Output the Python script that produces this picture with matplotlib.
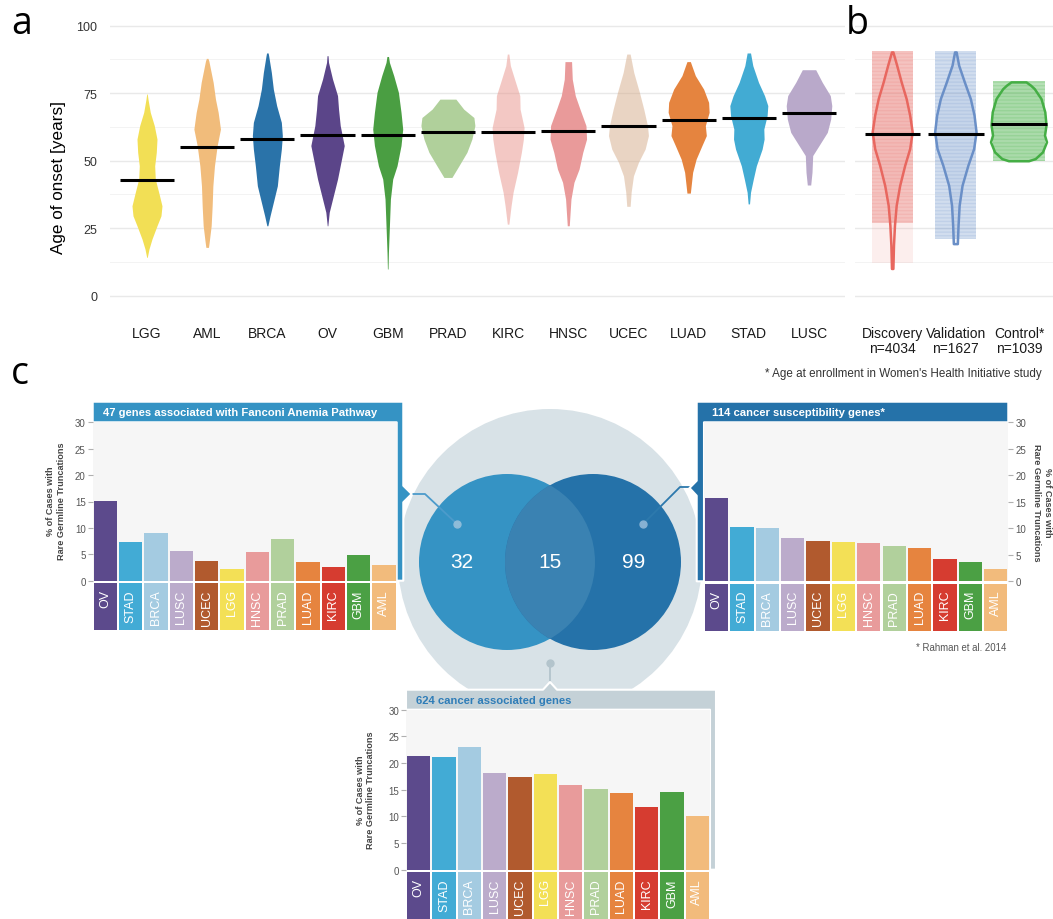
import matplotlib.pyplot as plt
import numpy as np
from matplotlib.patches import Circle, Polygon

plt.rcParams['font.family'] = ['Liberation Sans', 'DejaVu Sans']
plt.rcParams['hatch.linewidth'] = 0.6

W, H = 1053, 920

# ---------------- panel a: age of onset per cancer type ----------------
onset_types = ["LGG", "AML", "BRCA", "OV", "GBM", "PRAD",
               "KIRC", "HNSC", "UCEC", "LUAD", "STAD", "LUSC"]
onset_colors = ["#f2df55", "#f1bc7b", "#2a73a9", "#5b4589", "#4a9e42", "#b0d09b",
                "#e8938a", "#e99a9a", "#d5ab89", "#e5843f", "#42abd3", "#b9a9ca"]
onset_alpha = [1, 1, 1, 1, 1, 1, 0.5, 1, 0.5, 1, 1, 1]
onset_median = [43.0, 55.0, 58.0, 59.4, 59.6, 60.6, 60.6, 60.9, 63.0, 65.2, 65.8, 67.6]

# violin outlines as (age, half width in px)
lgg_shape = [(74.7, 0.3), (72.8, 1), (67.9, 3.3), (63, 7.3), (58, 10), (53.1, 9.3), (48.1, 7.7),
             (43.2, 8.3), (38.3, 11.7), (33.3, 15), (29.6, 14), (25.9, 10), (21, 5), (17.3, 2), (14.2, 0.3)]
aml_shape = [(87.9, 0.8), (86.9, 1.7), (79, 6), (72.8, 8.3), (67.9, 11), (61.7, 13.3), (55.6, 10),
             (48.1, 7.3), (40.7, 5.7), (33.3, 5), (25.9, 4), (19.8, 2), (17.9, 1.3)]
brca_shape = [(89.9, 0.8), (88.9, 1.3), (82.7, 4), (76.5, 6), (70.4, 9.3), (64.2, 14), (59.3, 15),
              (54.3, 14), (48.1, 12), (40.7, 10), (34.6, 6), (29.6, 2.7), (25.9, 0.5)]
ov_shape = [(88.9, 0.5), (86.4, 1), (80.2, 5), (74.1, 10), (69.1, 11), (63, 12.7), (55.6, 16.7),
            (50.6, 14), (43.2, 10), (35.8, 5), (30.9, 1.7), (25.9, 0.3)]
gbm_shape = [(88.6, 0.8), (86.4, 1.7), (81.5, 6), (75.3, 10.7), (67.9, 13.3), (61.7, 15), (55.6, 13.3),
             (48.1, 9.3), (43.2, 5), (35.8, 2.7), (25.9, 1.7), (16, 0.7), (9.9, 0.3)]
prad_shape = [(72.8, 8), (69.1, 15.8), (66, 26), (63, 27), (58, 24), (53.1, 19), (48.1, 11), (43.8, 4)]
kirc_shape = [(89.5, 0.8), (85.2, 2.3), (79, 7.5), (74.1, 11.7), (69.1, 12), (62.3, 16), (58, 15.3),
              (53.1, 13.3), (45.7, 9.5), (38.3, 5), (33.3, 3), (26.5, 0.8)]
hnsc_shape = [(86.7, 3.3), (80.2, 4), (74.1, 7), (69.1, 11.7), (63, 17.7), (58, 18.3), (53.1, 14.5),
              (46.9, 10.8), (42, 5.7), (35.8, 2.7), (25.9, 1)]
ucec_shape = [(89.5, 1.7), (82.7, 5.3), (75.3, 11), (69.1, 15.3), (63, 19), (59.3, 20), (54.3, 16.7),
              (49.4, 10), (44.4, 5), (38.3, 2.7), (33.1, 1.7)]
luad_shape = [(86.7, 1.7), (81.5, 6.7), (76.5, 15), (71.6, 20), (67.9, 20.5), (63, 16.7), (59.3, 17.7),
              (55.6, 13.3), (50.6, 7.5), (45.7, 4), (38, 1.7)]
stad_shape = [(89.9, 1.7), (85.2, 4), (79, 9.7), (74.1, 15.7), (70.4, 19), (66.7, 18.3), (61.7, 15),
              (58, 15.3), (54.3, 13.3), (48.1, 7.5), (43.2, 4.5), (38.3, 1.7), (34, 0.7)]
lusc_shape = [(83.7, 6.7), (79, 13.3), (74.1, 21.3), (70.4, 22.8), (65.4, 21.7), (60.5, 18.3),
              (55.6, 10), (51.9, 3.7), (45.7, 3), (41, 1.7)]
onset_shapes = [lgg_shape, aml_shape, brca_shape, ov_shape, gbm_shape, prad_shape,
                kirc_shape, hnsc_shape, ucec_shape, luad_shape, stad_shape, lusc_shape]

# ---------------- panel b: cohorts ----------------
cohort_labels = ["Discovery\nn=4034", "Validation\nn=1627", "Control*\nn=1039"]
cohort_colors = ["#e8675f", "#6a8fc7", "#45ae45"]
cohort_dots = ["#ec8a84", "#87a6d3", "#5aba5a"]
cohort_median = [59.9, 60.0, 63.7]
discovery_shape = [(90.1, 0.7), (85.2, 4.5), (79, 9), (72.8, 14), (66.7, 17.5), (60.5, 20), (54.3, 17.5),
                   (48.1, 12.5), (40.7, 7.5), (33.3, 4), (25.9, 2.3), (18.5, 1.3), (9.9, 0.7)]
validation_shape = [(90.1, 0.8), (85.2, 3.3), (79, 9), (72.8, 15), (66.7, 18.7), (60.5, 20.7), (54.3, 18.3),
                    (48.1, 12.5), (40.7, 6.7), (33.3, 3.8), (25.9, 2.7), (19.1, 2)]
control_shape = [(79, 7.5), (77.8, 12), (76.5, 15.8), (72.8, 22.5), (67.9, 26.3), (63, 27.5), (59.3, 26),
                 (56.8, 28), (53.1, 24), (50.6, 16.7), (49.8, 10)]
cohort_shapes = [discovery_shape, validation_shape, control_shape]
# age span and half width (px) of the jittered individual cases
cohort_cases_lo = [27.0, 21.0, 50.0]
cohort_cases_hi = [90.5, 90.5, 79.5]
cohort_cases_hw = [20.3, 20.5, 26.0]
cohort_cases_tint = [0.38, 0.22, 0.3]
discovery_tail = (12.0, 27.0)

# ---------------- panel c: truncation burden per gene set ----------------
tumor_types = ["OV", "STAD", "BRCA", "LUSC", "UCEC", "LGG",
               "HNSC", "PRAD", "LUAD", "KIRC", "GBM", "AML"]
tumor_colors = ["#5c4a8c", "#42abd5", "#a4cbe1", "#bbabcb", "#b15a2e", "#f3e056",
                "#e89b9b", "#b1d09c", "#e6843f", "#d63c30", "#4ba044", "#f2bb7c"]
fanconi_pct = [15.1, 7.4, 9.0, 5.7, 3.7, 2.2, 5.5, 7.9, 3.5, 2.6, 4.8, 3.0]
susceptibility_pct = [15.7, 10.2, 10.1, 8.2, 7.6, 7.5, 7.2, 6.6, 6.2, 4.3, 3.7, 2.4]
associated_pct = [21.4, 21.2, 23.1, 18.1, 17.3, 17.9, 15.8, 15.1, 14.4, 11.7, 14.6, 10.0]
venn_counts = [32, 15, 99]
gene_set_titles = ["47 genes associated with Fanconi Anemia Pathway",
                   "114 cancer susceptibility genes*",
                   "624 cancer associated genes"]


fig = plt.figure(figsize=(W / 100, H / 100), dpi=100)


def px_axes(x0, y0, x1, y1):
    return fig.add_axes([x0 / W, 1 - y1 / H, (x1 - x0) / W, (y1 - y0) / H])


def shape_arrays(shape, slot_px):
    ages = np.array([p[0] for p in shape])
    hw = np.array([p[1] for p in shape]) / slot_px
    return ages, hw


# background layer in pixel units for the venn diagram and boxes
bg = fig.add_axes([0, 0, 1, 1])
bg.set_xlim(0, W)
bg.set_ylim(H, 0)
bg.axis('off')


def age_axes(ax, left, right):
    ax.set_xlim(left, right)
    ax.set_ylim(-7, 105)
    ax.set_yticks([0, 25, 50, 75, 100])
    ax.set_yticks([12.5, 37.5, 62.5, 87.5], minor=True)
    ax.grid(axis='y', which='major', color='#e9e9e9', lw=1.0)
    ax.grid(axis='y', which='minor', color='#f3f3f3', lw=0.7)
    ax.set_axisbelow(True)
    ax.set_facecolor('none')
    for s in ax.spines.values():
        s.set_visible(False)
    ax.tick_params(which='both', length=0)
    ax.tick_params(axis='x', labelsize=10, pad=8, labelcolor='#1a1a1a')


# panel a
slot_a = 60.2
ax_a = px_axes(110, 13.2, 845, 315.6)
age_axes(ax_a, 1 - 37 / slot_a, 12 + 36 / slot_a)
for i, (shape, col, al, med) in enumerate(zip(onset_shapes, onset_colors, onset_alpha, onset_median)):
    ages, hw = shape_arrays(shape, slot_a)
    ax_a.fill_betweenx(ages, i + 1 - hw, i + 1 + hw, color=col, alpha=al, lw=0)
    ax_a.plot([i + 1 - 0.45, i + 1 + 0.45], [med, med], color='black', lw=2.2, solid_capstyle='butt')
ax_a.set_xticks(np.arange(1, 13))
ax_a.set_xticklabels(onset_types)
ax_a.tick_params(axis='y', labelsize=9, pad=9, labelcolor='#333333')
bg.text(58, 177, "Age of onset [years]", rotation=90, ha='center', va='center', fontsize=12.3)

# panel b
slot_b = 63.2
ax_b = px_axes(855, 13.2, 1053, 315.6)
age_axes(ax_b, 1 - 37.7 / slot_b, 3 + 34 / slot_b)
ax_b.set_yticklabels([])
for i in range(3):
    c = i + 1
    hw = cohort_cases_hw[i] / slot_b
    span = [cohort_cases_lo[i], cohort_cases_hi[i]]
    ax_b.fill_betweenx(span, c - hw, c + hw, facecolor=cohort_dots[i], alpha=cohort_cases_tint[i], lw=0)
    ax_b.fill_betweenx(span, c - hw, c + hw, facecolor='none', edgecolor=cohort_dots[i],
                       hatch='-' * 12, lw=0, alpha=0.45)
    if i == 0:
        ax_b.fill_betweenx(list(discovery_tail), c - hw, c + hw, facecolor=cohort_dots[i], alpha=0.14, lw=0)
    ages, vhw = shape_arrays(cohort_shapes[i], slot_b)
    ax_b.fill_betweenx(ages, c - vhw, c + vhw, facecolor=cohort_colors[i], alpha=0.1, lw=0)
    ax_b.fill_betweenx(ages, c - vhw, c + vhw, facecolor='none', edgecolor=cohort_colors[i], lw=1.8)
    ax_b.plot([c - 0.44, c + 0.44], [cohort_median[i]] * 2, color='black', lw=2.2, solid_capstyle='butt')
ax_b.set_xticks([1, 2, 3])
ax_b.set_xticklabels(cohort_labels, linespacing=1.15)

fig.text(11 / W, 1 - 34 / H, "a", fontsize=27, family='Open Sans')
fig.text(846 / W, 1 - 34 / H, "b", fontsize=27, family='Open Sans')
fig.text(11 / W, 1 - 384 / H, "c", fontsize=27, family='Open Sans')
bg.text(1042, 374, "* Age at enrollment in Women's Health Initiative study", ha='right', va='center',
        fontsize=8.4, color='#333333')
bg.text(1006, 648, "* Rahman et al. 2014", ha='right', va='center', fontsize=6.9, color='#555555')

# panel c: venn of gene sets
bg.add_patch(Circle((550, 562), 152, fc='#d8e2e7', ec='none', zorder=1))
left_c = Circle((507, 563), 88, fc='#3593c4', ec='none', zorder=2)
right_c = Circle((593, 563), 88, fc='#2572a9', ec='none', zorder=2)
bg.add_patch(left_c)
bg.add_patch(right_c)
lens = Circle((507, 563), 88, fc='#3a82b2', ec='none', zorder=3)
bg.add_patch(lens)
lens.set_clip_path(right_c)
for x, n in zip([462, 550, 634], venn_counts):
    bg.text(x, 563, str(n), color='white', fontsize=15, ha='center', va='center', zorder=4)

# connectors from the circles to the boxes
bg.plot([403, 425, 457], [495, 495, 525], color='#4c9bcb', lw=1.3, zorder=4)
bg.plot([457], [525], 'o', ms=5, color='#8ebcd9', zorder=5)
bg.plot([697, 680, 643], [488, 488, 525], color='#2d79ad', lw=1.3, zorder=4)
bg.plot([643], [525], 'o', ms=5, color='#87b1d3', zorder=5)
bg.plot([550, 550], [664, 688], color='#b3c4cc', lw=1.3, zorder=4)
bg.plot([550], [664], 'o', ms=5, color='#b3c4cc', zorder=5)

# box frames (header + side strip + pointer)
left_frame = [(92.7, 402.7), (403.3, 402.7), (403.3, 486.7), (411.7, 495), (403.3, 503.3),
              (403.3, 581.7), (396.7, 581.7), (396.7, 423.3), (92.7, 423.3)]
right_frame = [(696.7, 402.7), (1008.3, 402.7), (1008.3, 423.3), (704, 423.3), (704, 582.3),
               (696.7, 582.3), (696.7, 496.7), (689.5, 489), (696.7, 481.7)]
bottom_frame = [(406, 690.7), (543, 690.7), (550, 683), (557, 690.7), (716, 690.7),
                (716, 870.7), (710, 870.7), (710, 710.7), (406, 710.7)]
for pts, col in [(left_frame, '#3593c4'), (right_frame, '#2572a9'), (bottom_frame, '#c4d1d7')]:
    bg.add_patch(Polygon(pts, closed=True, fc=col, ec='white', lw=1.5, joinstyle='round', zorder=6))
bg.text(103, 413, gene_set_titles[0], color='white', fontsize=8.1, fontweight='bold', va='center', zorder=7)
bg.text(711.5, 413, gene_set_titles[1], color='white', fontsize=8.1, fontweight='bold', va='center', zorder=7)
bg.text(416, 701, gene_set_titles[2], color='#2f7db8', fontsize=8.1, fontweight='bold', va='center', zorder=7)

ylab = "% of Cases with\nRare Germline Truncations"
bg.text(56, 501, ylab, rotation=90, ha='center', va='center', fontsize=6.6, fontweight='bold',
        color='#444444', linespacing=1.25)
bg.text(1042, 503, ylab, rotation=270, ha='center', va='center', fontsize=6.6, fontweight='bold',
        color='#444444', linespacing=1.25)
bg.text(365.5, 790, ylab, rotation=90, ha='center', va='center', fontsize=6.6, fontweight='bold',
        color='#444444', linespacing=1.25)


def truncation_bars(x0, y0, x1, y1, values, side):
    ax = px_axes(x0, y0, x1, y1)
    x = np.arange(len(values))
    ax.bar(x, values, width=0.92, color=tumor_colors, lw=0)
    ax.bar(x, -8.9, bottom=-0.45, width=0.92, color=tumor_colors, lw=0, clip_on=False)
    for i, name in enumerate(tumor_types):
        ax.text(i, -1.6, name, rotation=90, ha='center', va='top', color='white', fontsize=9)
    ax.set_xlim(-0.5, len(values) - 0.5)
    ax.set_ylim(0, 30)
    ax.set_facecolor('#f6f6f6')
    for s in ax.spines.values():
        s.set_visible(False)
    ax.set_xticks([])
    ax.set_yticks(range(0, 31, 5))
    if side == 'right':
        ax.yaxis.tick_right()
    ax.tick_params(axis='y', length=3.5, width=0.8, color='#b0b0b0', labelsize=7,
                   labelcolor='#555555', pad=1.5)
    return ax


truncation_bars(92.7, 423.3, 396.7, 581.7, fanconi_pct, 'left')
truncation_bars(704, 423.3, 1008.3, 582.3, susceptibility_pct, 'right')
truncation_bars(406, 710.7, 710, 870.7, associated_pct, 'left')

fig.savefig("out.png", dpi=100)
